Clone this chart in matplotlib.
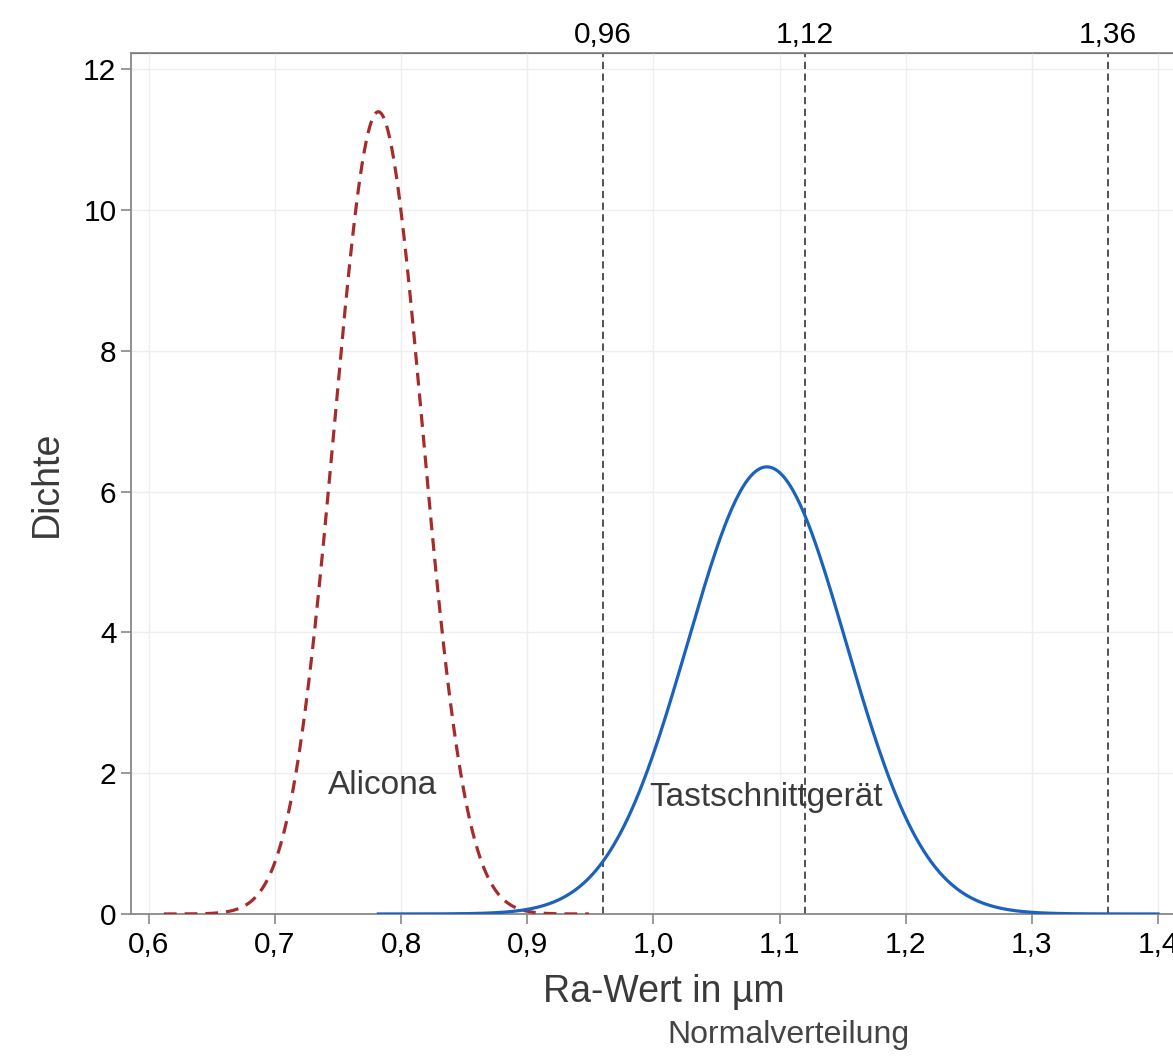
import matplotlib
matplotlib.use("Agg")
import matplotlib.pyplot as plt
import numpy as np
from matplotlib.ticker import FuncFormatter

plt.rcParams['font.family'] = ['Liberation Sans', 'DejaVu Sans']

# fitted normal distributions
names = ["Alicona", "Tastschnittgerät"]
means = [0.782, 1.090]
sigmas = [0.035, 0.0628]
x_from = [0.612, 0.782]
x_to = [0.949, 1.400]
label_pos = [(0.785, 1.83), (1.089, 1.65)]

ref_lines = [0.96, 1.12, 1.36]
ref_labels = ["0,96", "1,12", "1,36"]

x_ticks = [0.6, 0.7, 0.8, 0.9, 1.0, 1.1, 1.2, 1.3, 1.4]
y_ticks = [0, 2, 4, 6, 8, 10, 12]

fig = plt.figure(figsize=(11.73, 10.64), dpi=100)
# axes runs past the right edge of the picture, like the reference crop
ax = fig.add_axes([0.1117, 0.141, 0.9078, 0.809])

styles = [dict(color='#a62b2b', linestyle=(0, (4, 2.5)), lw=2.3),
          dict(color='#1a62be', linestyle='-', lw=2.3)]
for i in range(len(names)):
    xs = np.linspace(x_from[i], x_to[i], 400)
    ys = np.exp(-0.5 * ((xs - means[i]) / sigmas[i]) ** 2) / (sigmas[i] * np.sqrt(2 * np.pi))
    ax.plot(xs, ys, zorder=3, **styles[i])
    ax.text(label_pos[i][0], label_pos[i][1], names[i], fontsize=24,
            color='#3a3a3a', ha='center', va='center')

for v in ref_lines:
    ax.axvline(v, color='#444444', lw=1.3, linestyle=(0, (4, 2.5)), zorder=2)

ax.set_xlim(0.586, 1.43)
ax.set_ylim(0, 12.23)
ax.set_xticks(x_ticks)
ax.set_yticks(y_ticks)
ax.xaxis.set_major_formatter(FuncFormatter(lambda v, p: f"{v:.1f}".replace('.', ',')))
ax.tick_params(labelsize=21.5, colors='#888888', labelcolor='black', length=7, width=1.2)
ax.tick_params(axis='x', pad=5)
ax.grid(True, color='#eeeeee', lw=1)
ax.set_axisbelow(True)
for s in ax.spines.values():
    s.set_color('#888888')
    s.set_linewidth(1.3)

top = ax.secondary_xaxis('top')
top.set_xticks(ref_lines)
top.set_xticklabels(ref_labels)
top.tick_params(length=0, labelsize=21.5, labelcolor='black', pad=3)

ax.set_xlabel("Ra-Wert in µm", fontsize=27, color='#3a3a3a', labelpad=11)
ax.set_ylabel("Dichte", fontsize=27, color='#3a3a3a', labelpad=13)
fig.text(0.672, 0.020, "Normalverteilung", fontsize=23, color='#444444', ha='center')

fig.savefig("out.png", dpi=100)
